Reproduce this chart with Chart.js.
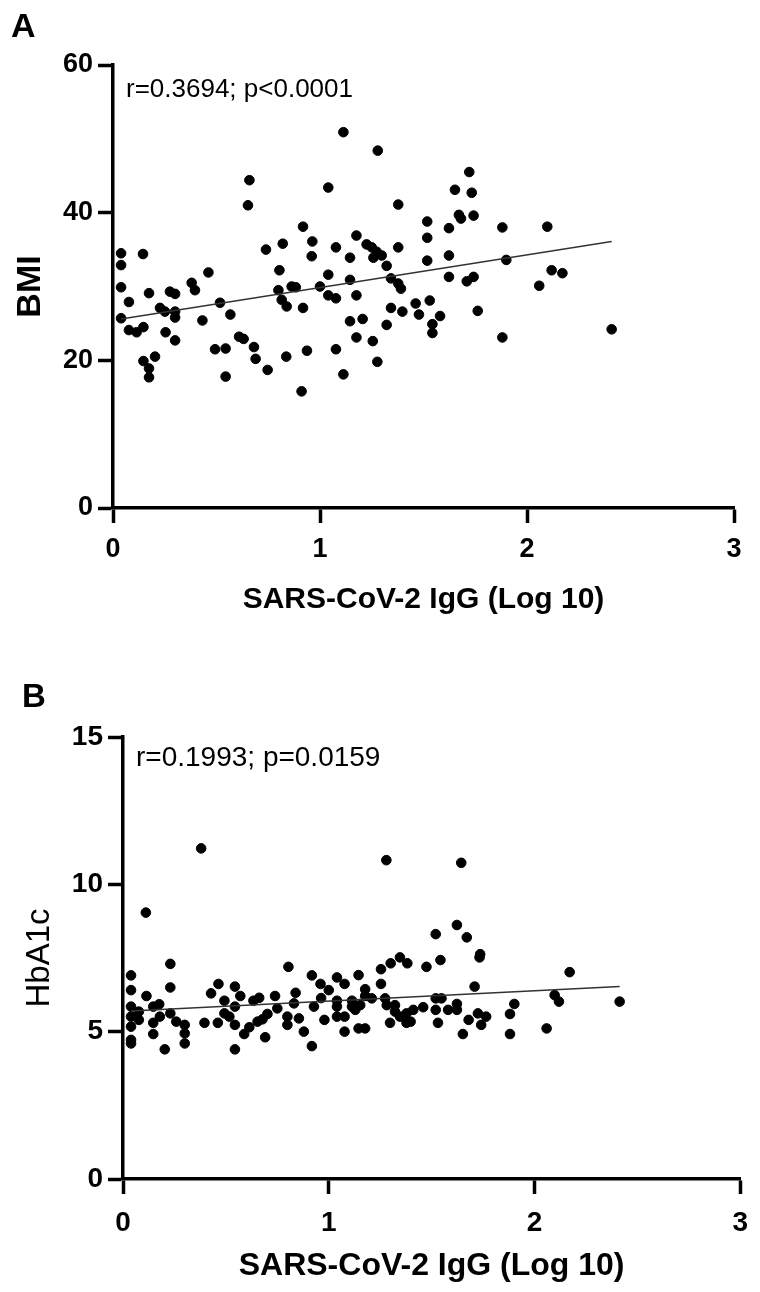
<!DOCTYPE html>
<html>
<head>
<meta charset="utf-8">
<script src="https://cdn.jsdelivr.net/npm/chart.js@4"></script>
<style>
  html, body { margin:0; padding:0; background:#fff; }
  #wrapA { position:absolute; left:0; top:0; width:760px; height:640px; }
  #wrapB { position:absolute; left:0; top:640px; width:760px; height:652px; }
</style>
</head>
<body>
<div id="wrapA"><canvas id="chartA" width="760" height="640"></canvas></div>
<div id="wrapB"><canvas id="chartB" width="760" height="652"></canvas></div>
<script>
// ---------- Data ----------
const xTicks = [0, 1, 2, 3];
const bmiTicks = [0, 20, 40, 60];
const hbaTicks = [0, 5, 10, 15];

const bmiX = [0.039,0.039,0.039,0.039,0.145,0.077,0.174,0.077,0.114,0.147,0.147,0.174,0.174,0.203,0.227,0.251,0.275,0.300,0.300,0.300,0.254,0.300,0.380,0.396,0.461,0.432,0.517,0.567,0.493,0.544,0.544,0.609,0.631,0.681,0.689,0.747,0.659,0.652,0.739,0.820,0.804,0.799,0.815,0.839,0.863,0.883,0.918,0.963,0.960,0.918,0.837,0.937,0.911,1.000,
  1.113,1.279,1.040,1.378,1.721,1.652,1.733,1.671,1.681,1.742,1.518,1.518,1.623,1.881,2.098,1.176,1.077,1.145,1.225,1.250,1.274,1.298,1.258,1.378,1.322,1.518,1.623,1.900,1.040,1.145,1.343,1.378,1.391,1.623,1.709,1.742,2.119,2.171,2.059,1.040,1.077,1.176,1.343,1.398,1.462,1.530,1.478,1.580,1.543,1.543,1.762,1.145,1.206,1.322,1.176,1.255,1.077,1.277,1.113,1.881,2.409];
const bmiY = [34.5,32.9,29.9,25.7,34.4,27.9,29.1,24.1,23.8,24.5,19.9,18.9,17.7,20.5,27.1,26.6,29.3,29.0,26.6,25.8,23.8,22.7,30.5,29.5,31.9,25.4,27.8,26.2,21.5,21.6,17.8,23.2,22.9,21.8,20.2,18.7,44.4,41.0,35.0,35.8,32.2,29.5,28.2,27.3,30.0,29.9,38.1,36.1,34.1,27.1,20.5,21.3,15.8,30.0,
  50.9,48.4,43.4,41.1,45.5,43.1,42.7,39.7,39.2,39.6,38.8,36.6,37.9,38.0,38.1,36.9,35.3,33.9,35.7,35.3,34.7,34.2,33.9,35.3,32.8,33.5,34.2,33.6,31.6,30.9,31.1,30.4,29.7,31.3,30.7,31.3,32.2,31.8,30.1,28.8,28.4,28.8,27.1,26.6,27.7,28.1,26.2,26.0,24.9,23.7,26.7,25.3,25.6,24.8,23.1,22.6,21.5,19.8,18.1,23.1,24.2];

const hbaX = [0.111,0.039,0.039,0.039,0.039,0.039,0.039,0.039,0.077,0.077,0.114,0.147,0.176,0.147,0.147,0.179,0.203,0.230,0.230,0.230,0.259,0.300,0.300,0.300,0.396,0.428,0.464,0.461,0.493,0.493,0.517,0.544,0.570,0.544,0.544,0.544,0.589,0.614,0.634,0.662,0.654,0.678,0.702,0.691,0.739,0.750,0.804,0.839,0.831,0.799,0.799,0.855,0.879,0.918,0.960,1.000,0.963,0.928,0.979,0.918,
  1.623,1.520,1.671,1.736,1.733,1.346,1.301,1.382,1.254,1.475,1.543,1.145,1.040,1.077,1.254,1.177,1.709,2.171,1.177,1.040,1.113,1.209,1.274,1.520,1.548,1.040,1.113,1.153,1.282,1.322,1.623,1.902,2.098,2.119,2.414,1.040,1.077,1.129,1.322,1.346,1.378,1.411,1.459,1.520,1.580,1.623,1.725,1.765,1.881,1.298,1.378,1.398,1.531,1.680,1.741,1.145,1.177,1.077,1.652,1.881,2.059,
  0.380,1.280,1.644];
const hbaY = [9.04,6.91,6.41,5.85,5.51,5.17,4.72,4.60,5.68,5.40,6.21,5.85,5.93,5.30,4.92,5.51,4.40,7.30,6.50,5.62,5.34,5.23,4.94,4.60,5.30,6.30,6.62,5.30,6.05,5.62,5.51,6.53,6.21,5.85,5.23,4.40,4.92,5.15,6.05,6.15,5.34,5.42,5.60,4.81,6.21,5.79,7.20,6.32,5.96,5.51,5.23,5.45,5.00,6.91,6.62,6.41,6.14,5.85,5.40,4.51,
  8.62,8.31,8.20,7.63,7.52,7.52,7.32,7.32,7.12,7.20,7.43,6.92,6.84,6.62,6.62,6.44,6.53,7.02,6.21,6.05,6.05,6.13,6.13,6.13,6.13,5.85,5.85,5.90,5.90,5.90,5.94,5.94,6.24,6.02,6.02,5.51,5.51,5.74,5.68,5.51,5.62,5.74,5.83,5.74,5.74,5.74,5.62,5.51,5.60,5.30,5.30,5.34,5.30,5.40,5.23,5.11,5.11,5.00,4.92,4.92,5.11,
  11.22,10.82,10.73];

const fitAX = [0.039, 2.409];
const fitAY = [25.6, 36.1];
const fitBX = [0.039, 2.414];
const fitBY = [5.70, 6.53];

const statsA = "r=0.3694; p<0.0001";
const statsB = "r=0.1993; p=0.0159";
const xTitle = "SARS-CoV-2 IgG (Log 10)";

// ---------- helpers ----------
const pts = (xs, ys) => xs.map((x, i) => ({ x: x, y: ys[i] }));
const FONT = "'Liberation Sans', Arial, Helvetica, sans-serif";

const textPlugin = {
  id: 'panelText',
  afterDraw(chart, args, opts) {
    const ctx = chart.ctx;
    ctx.save();
    ctx.fillStyle = '#000';
    ctx.textBaseline = 'alphabetic';
    ctx.textAlign = 'left';
    for (const t of opts.items) {
      ctx.font = t.font;
      ctx.fillText(t.text, t.x, t.y);
    }
    ctx.restore();
  }
};

function makeChart(id, cfg) {
  return new Chart(document.getElementById(id), {
    type: 'scatter',
    data: {
      datasets: [
        {
          type: 'line',
          data: pts(cfg.fitX, cfg.fitY),
          borderColor: '#333',
          borderWidth: 1.5,
          pointRadius: 0,
          fill: false,
          tension: 0
        },
        {
          data: pts(cfg.xs, cfg.ys),
          backgroundColor: '#000',
          borderColor: '#000',
          borderWidth: 1,
          pointRadius: 4.8,
          pointHoverRadius: 4.8
        }
      ]
    },
    options: {
      responsive: false,
      animation: false,
      events: [],
      layout: { padding: { left: 0, top: cfg.top, right: cfg.right, bottom: 0 } },
      plugins: {
        legend: { display: false },
        tooltip: { enabled: false },
        panelText: { items: cfg.texts }
      },
      scales: {
        x: {
          type: 'linear',
          min: 0, max: 3,
          afterBuildTicks: s => { s.ticks = xTicks.map(v => ({ value: v })); },
          afterFit: s => { s.height = cfg.xH; },
          border: { display: true, color: '#000', width: 3.5 },
          grid: { display: true, drawOnChartArea: false, drawTicks: true, tickLength: 15, tickWidth: 3.5, tickColor: '#000' },
          ticks: { color: '#000', maxRotation: 0, padding: cfg.xTickPad, font: { family: FONT, size: cfg.tickSize, weight: 'bold' } },
          title: { display: true, text: xTitle, color: '#000', padding: { top: 0, bottom: cfg.xTitlePad }, font: { family: FONT, size: cfg.xTitleSize, weight: cfg.xTitleWeight } }
        },
        y: {
          type: 'linear',
          min: cfg.yTicks[0], max: cfg.yTicks[cfg.yTicks.length - 1],
          afterBuildTicks: s => { s.ticks = cfg.yTicks.map(v => ({ value: v })); },
          afterFit: s => { s.width = cfg.yW; },
          border: { display: true, color: '#000', width: 3.5 },
          grid: { display: true, drawOnChartArea: false, drawTicks: true, tickLength: 15, tickWidth: 3.5, tickColor: '#000' },
          ticks: { color: '#000', padding: 5, font: { family: FONT, size: cfg.tickSize, weight: 'bold' } },
          title: { display: true, text: cfg.yTitle, color: '#000', padding: { top: cfg.yTitlePad, bottom: 0 }, font: { family: FONT, size: cfg.yTitleSize, weight: cfg.yTitleWeight } }
        }
      }
    },
    plugins: [textPlugin]
  });
}

makeChart('chartA', {
  xs: bmiX, ys: bmiY, fitX: fitAX, fitY: fitAY,
  yTicks: bmiTicks, yTitle: 'BMI',
  top: 65, right: 26, yW: 113, xH: 132,
  tickSize: 27, xTickPad: 10,
  xTitleSize: 30, xTitleWeight: 'bold', xTitlePad: 22,
  yTitleSize: 34, yTitleWeight: 'bold', yTitlePad: 10,
  texts: [
    { text: 'A', x: 11, y: 37, font: "bold 34px " + FONT },
    { text: statsA, x: 126, y: 97, font: "26px " + FONT }
  ]
});

makeChart('chartB', {
  xs: hbaX, ys: hbaY, fitX: fitBX, fitY: fitBY,
  yTicks: hbaTicks, yTitle: 'HbA1c',
  top: 97, right: 16, yW: 123, xH: 113,
  tickSize: 28, xTickPad: 12,
  xTitleSize: 32, xTitleWeight: 'bold', xTitlePad: 7,
  yTitleSize: 33, yTitleWeight: 'normal', yTitlePad: 20,
  texts: [
    { text: 'B', x: 22, y: 67, font: "bold 33px " + FONT },
    { text: statsB, x: 136, y: 126, font: "28px " + FONT }
  ]
});
</script>
</body>
</html>
